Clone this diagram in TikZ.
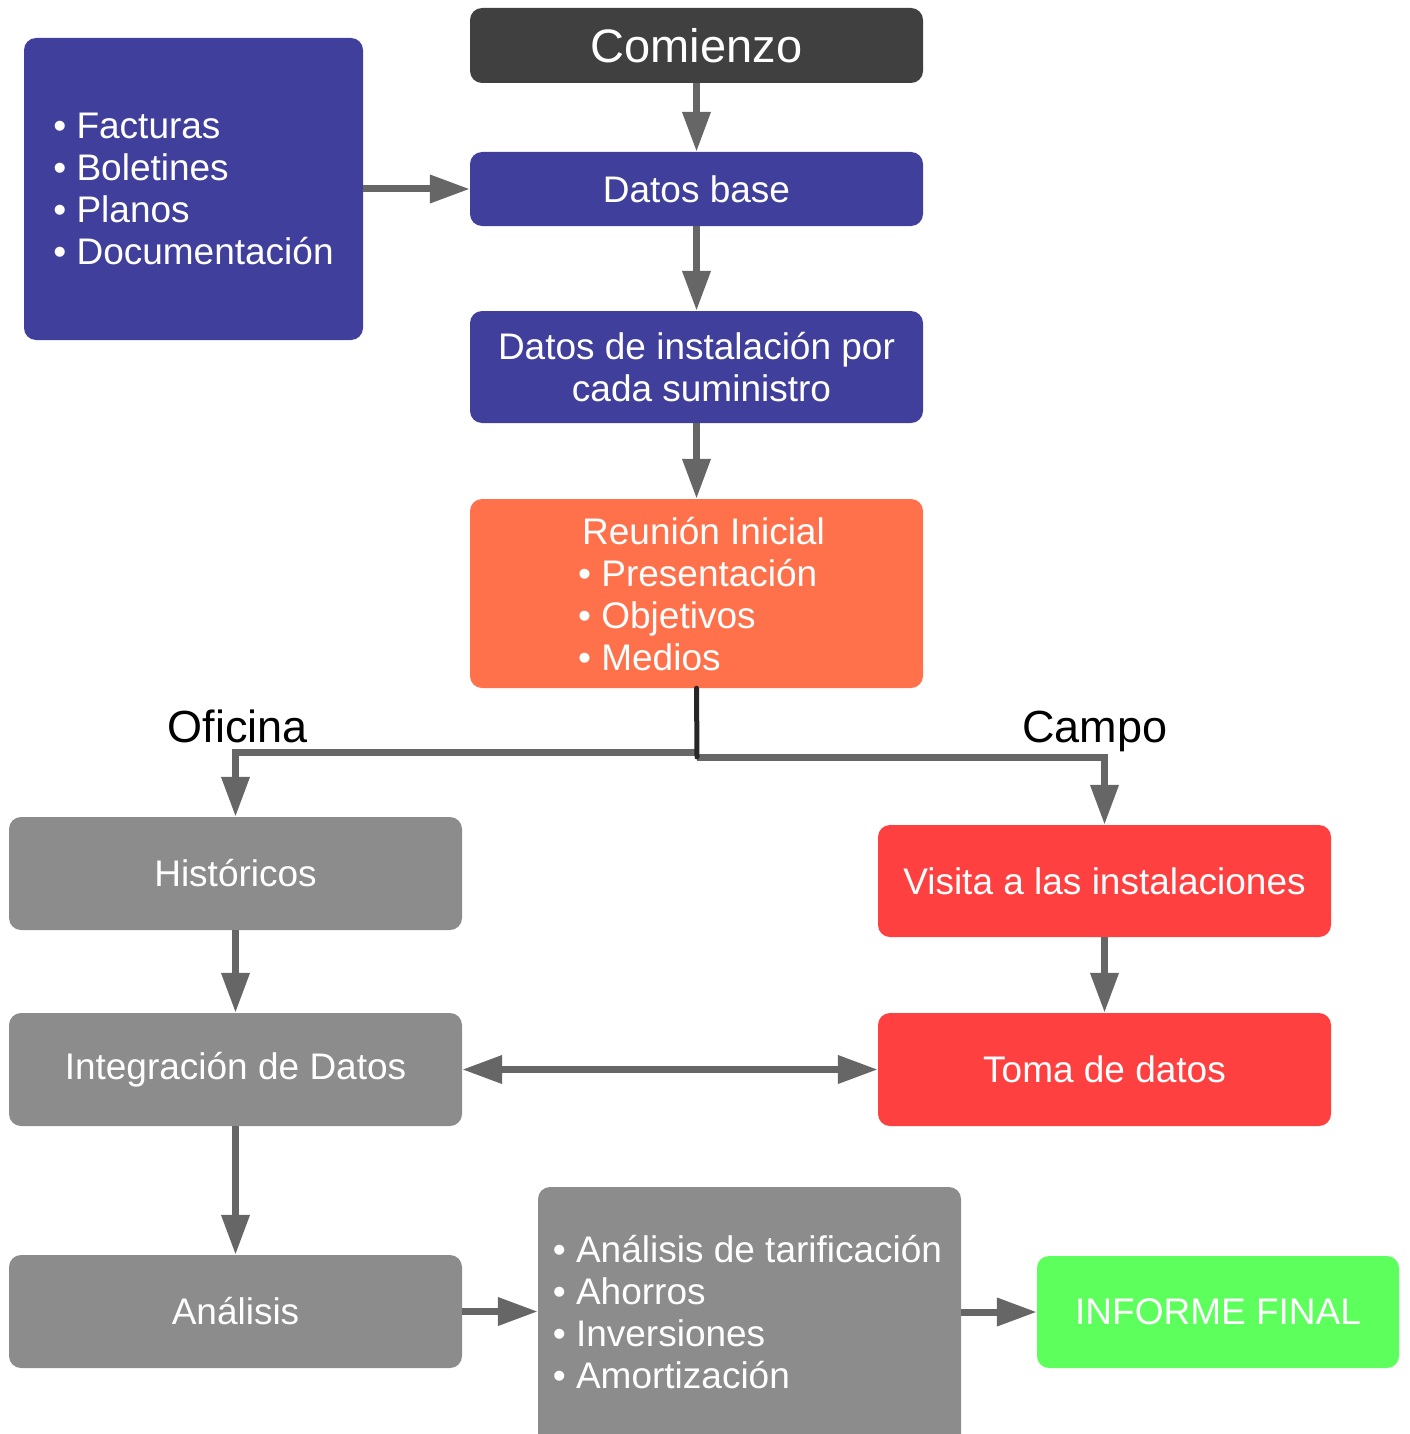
\documentclass[tikz,border=0pt]{standalone}
\usepackage{fontspec}
\setmainfont{Liberation Sans}
\usetikzlibrary{positioning,arrows.meta}

\definecolor{azul}{HTML}{40409C}
\definecolor{oscuro}{HTML}{404040}
\definecolor{naranja}{HTML}{FF714B}
\definecolor{rojo}{HTML}{FF4040}
\definecolor{gris}{HTML}{8C8C8C}
\definecolor{verde}{HTML}{5CFF5C}
\definecolor{flecha}{HTML}{666666}

\tikzset{
  caja/.style={rectangle, rounded corners=12pt, text=white, inner sep=0pt,
    align=center, font=\fontsize{37}{42}\selectfont},
  ancha/.style={caja, minimum width=453pt, minimum height=113pt},
  lista/.style={align=left},
  etiqueta/.style={font=\fontsize{45}{50}\selectfont, inner sep=0pt, anchor=base},
  conector/.style={draw=flecha, line width=7pt, -{Triangle[length=40pt,width=27pt]}},
}

\begin{document}
\begin{tikzpicture}[x=1pt, y=-1pt]
  \useasboundingbox (0,0) rectangle (1409,1434);

  \node[caja, fill=oscuro, minimum width=453pt, minimum height=75pt,
    font=\fontsize{47}{52}\selectfont] (comienzo) at (696.5,45.5) {Comienzo};
  \node[caja, fill=azul, minimum width=453pt, minimum height=74pt] (base) at (696.5,189) {Datos base};
  \node[caja, fill=azul, minimum width=339pt, minimum height=302pt, lista] (docs) at (193.5,189)
    {• Facturas\\• Boletines\\• Planos\\• Documentación};
  \node[ancha, fill=azul, minimum height=112pt] (instal) at (696.5,367)
    {Datos de instalación por\\\hspace*{10pt}cada suministro};
  \node[ancha, fill=naranja, minimum height=189pt] (reunion) at (696.5,593.5)
    {\hspace*{10pt}\begin{tabular}{@{}l@{}}\rule{0pt}{40pt}\hspace{4pt}Reunión Inicial\\• Presentación\\• Objetivos\\• Medios\end{tabular}};

  % dos ramas
  \node[etiqueta] (oficina) at (238,742) {Oficina};
  \node[etiqueta] (campo) at (1095,742) {Campo};

  \node[ancha, fill=gris] (historicos) at (235.5,873.5) {Históricos};
  \node[ancha, fill=gris] (integracion) at (235.5,1069.5) {Integración de Datos};
  \node[ancha, fill=gris] (analisis) at (235.5,1311.5) {Análisis};
  \node[ancha, fill=rojo, minimum height=112pt] (visita) at (1104.5,881) {Visita a las instalaciones};
  \node[ancha, fill=rojo] (toma) at (1104.5,1069.5) {Toma de datos};
  \node[caja, fill=gris, minimum width=423pt, minimum height=263pt] (resumen) at (749.5,1318.5)
    {\begin{tabular}{@{}l@{}}• Análisis de tarificación\\• Ahorros\\• Inversiones\\• Amortización\rule[-16pt]{0pt}{1pt}\end{tabular}\hspace*{4pt}};
  \node[caja, fill=verde, minimum width=362pt, minimum height=112pt] (informe) at (1218,1312) {INFORME FINAL};

  \coordinate (splitL) at (697,752);
  \coordinate (splitR) at (697,757);

  \draw[conector] (comienzo) -- (base);
  \draw[conector] (docs.east) -- (base.west);
  \draw[conector] (base) -- (instal);
  \draw[conector] (instal) -- (reunion);
  \draw[conector] (splitL) -| (historicos.north);
  \draw[conector] (splitR) -| (visita.north);
  \draw[line width=5pt, draw=black!85, line cap=round] (reunion.south) -- (splitR);
  \draw[conector] (historicos) -- (integracion);
  \draw[conector] (visita) -- (toma);
  \draw[conector, {Triangle[length=40pt,width=27pt]}-{Triangle[length=40pt,width=27pt]}] (integracion) -- (toma);
  \draw[conector] (integracion) -- (analisis);
  \draw[conector] (analisis.east) -- (analisis.east -| resumen.west);
  \draw[conector] (resumen.east |- informe.west) -- (informe.west);
\end{tikzpicture}
\end{document}
